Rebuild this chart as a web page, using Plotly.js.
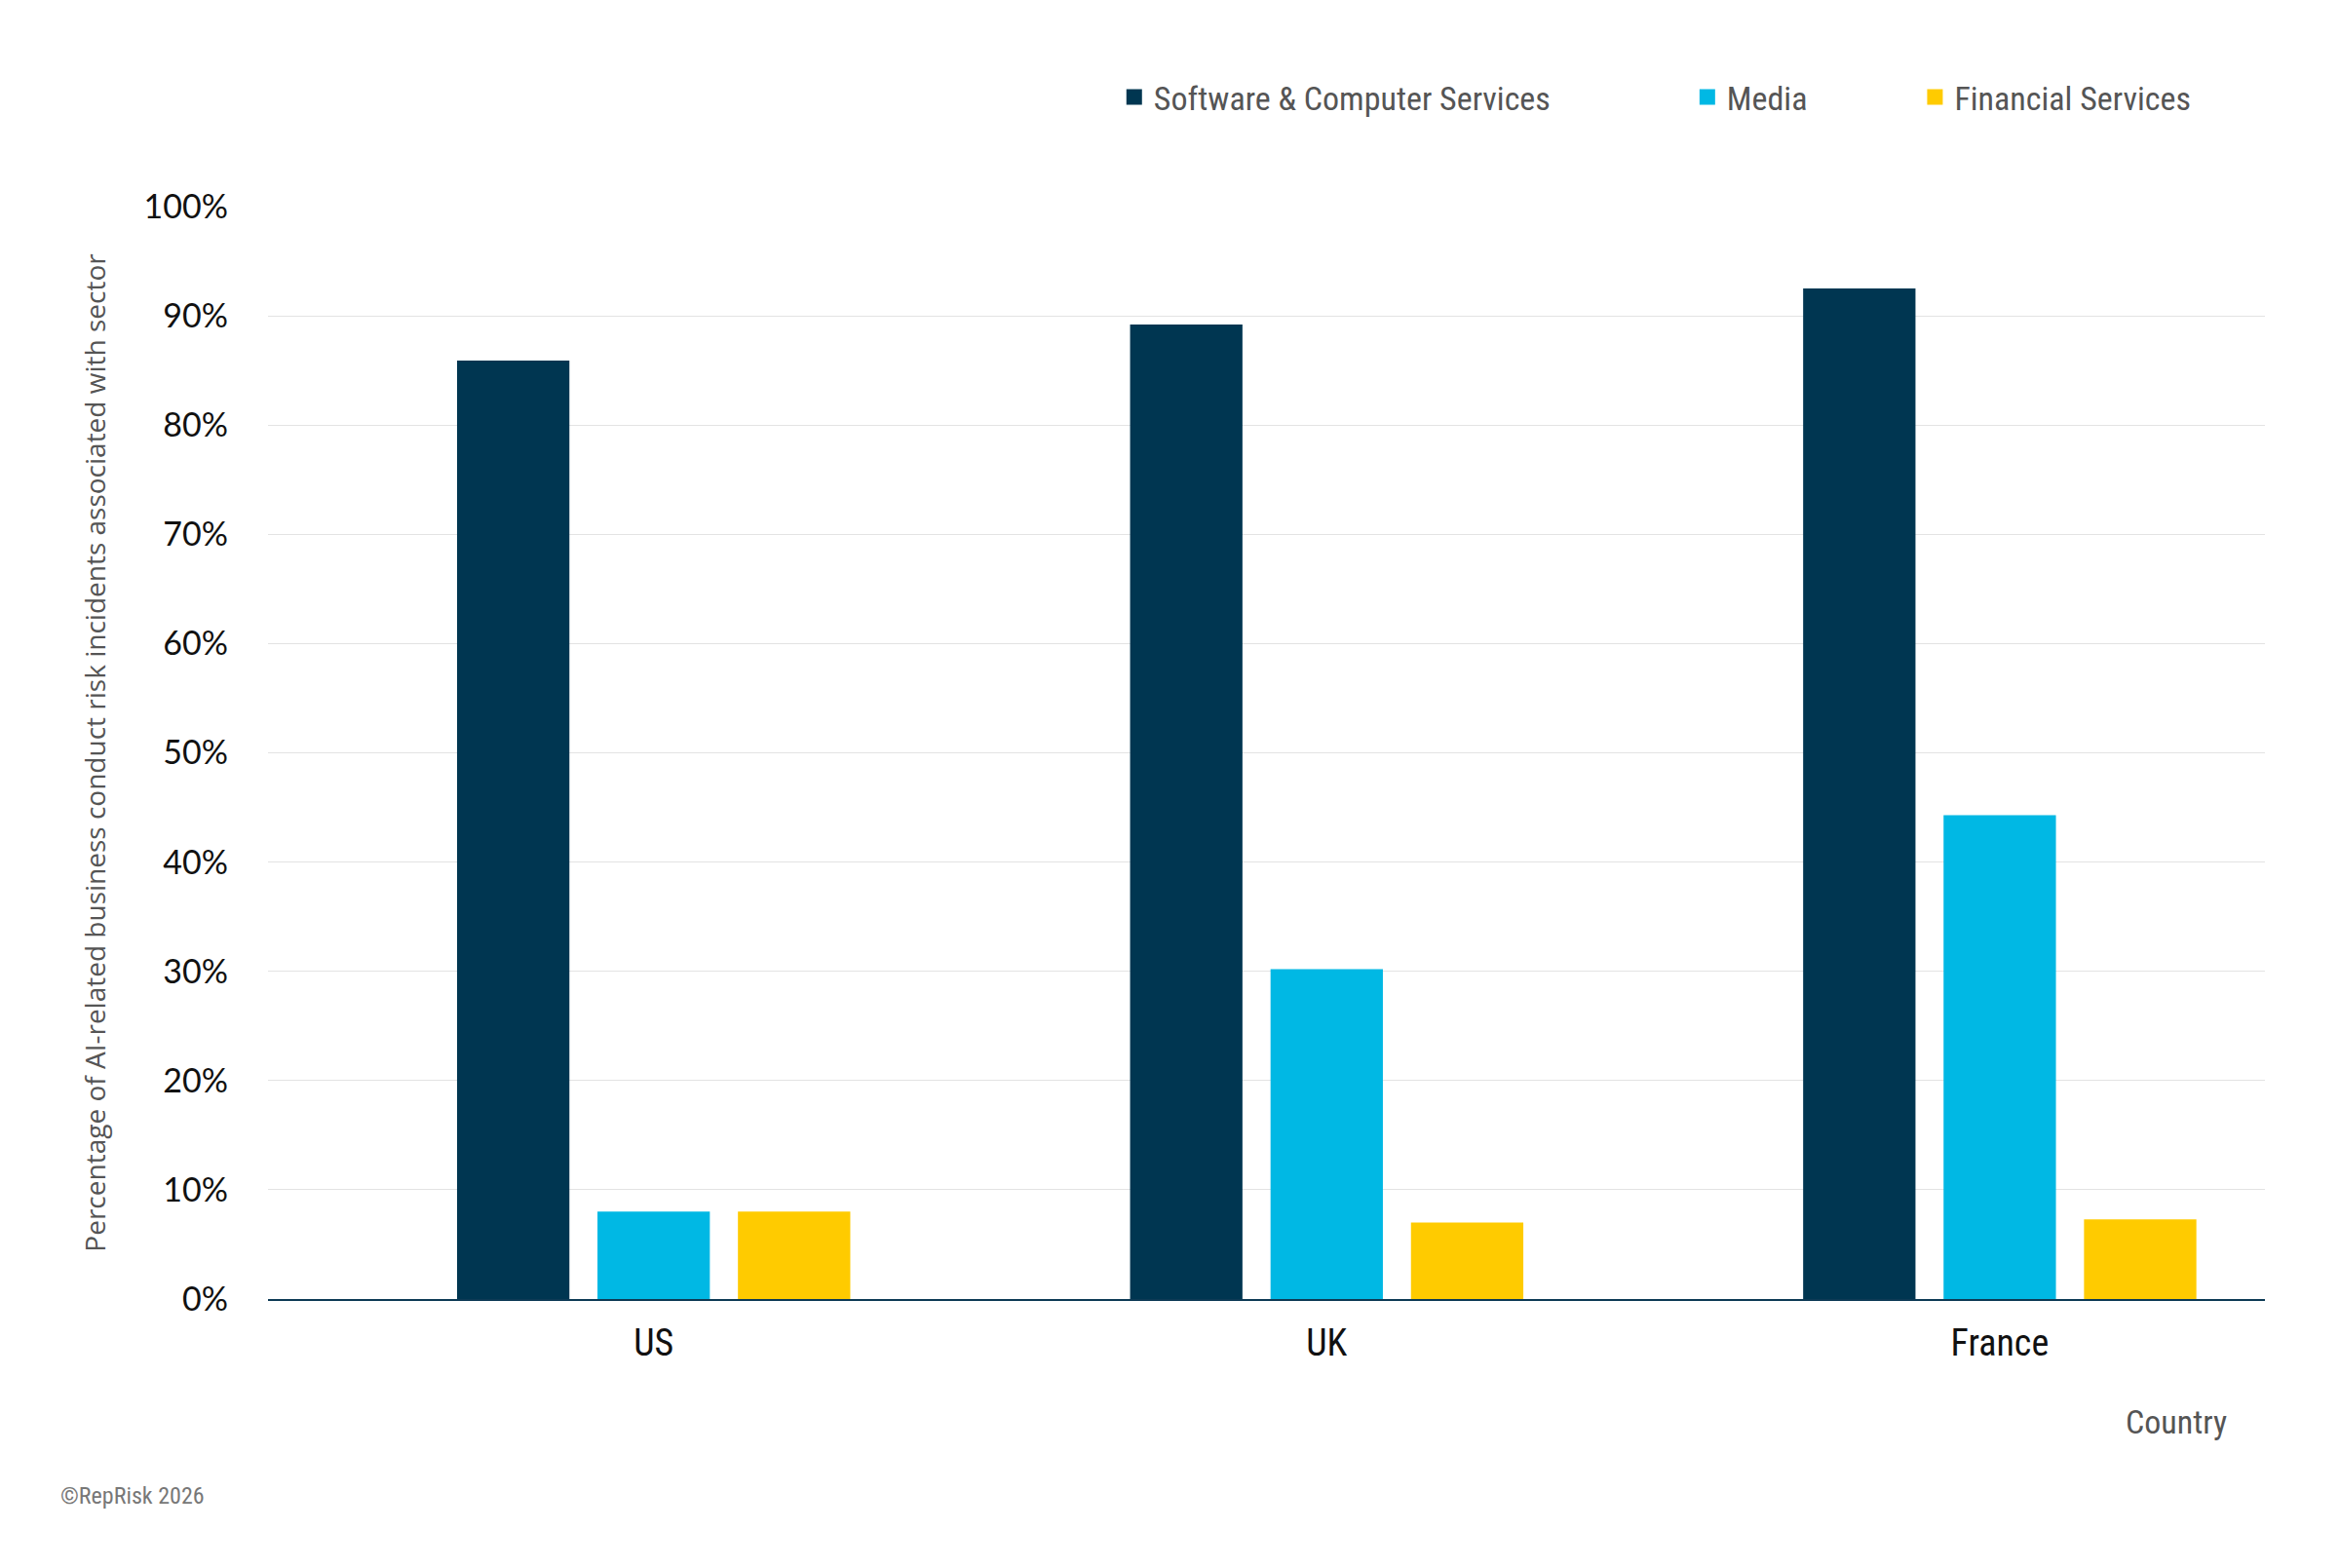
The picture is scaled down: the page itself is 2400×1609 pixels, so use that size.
<!DOCTYPE html>
<html><head><meta charset="utf-8">
<script src="https://cdn.plot.ly/plotly-3.0.1.min.js"></script>
<style>body{margin:0;background:#fff}</style></head>
<body><div id="c" style="width:2400px;height:1609px"></div>
<script>
const countries = ["US", "UK", "France"];
const software = [85.9, 89.2, 92.5];
const media = [8.0, 30.2, 44.3];
const financial = [8.0, 7.0, 7.3];
const names = ["Software & Computer Services", "Media", "Financial Services"];
const colors = ["#003651", "#00b8e4", "#ffcb00"];
const yTicks = [0,10,20,30,40,50,60,70,80,90,100];
const narrow = "Liberation Sans Narrow, Roboto Condensed, Arial Narrow, sans-serif";
const legendIds = ["legend", "legend2", "legend3"];
const legendX = [0.424, 0.711, 0.825];
const traces = [software, media, financial].map((v, i) => ({
  type: "bar", x: countries, y: v, name: names[i], marker: {color: colors[i]}, hoverinfo: "skip", showlegend: false
}));
names.forEach((n, i) => traces.push({
  type: "scatter", mode: "markers", x: [null], y: [null], name: n, legend: legendIds[i],
  marker: {symbol: "square", size: 26, color: colors[i]}, hoverinfo: "skip"
}));
const legendBase = (x) => ({orientation: "h", x: x, xanchor: "left", y: 1.1, yanchor: "middle",
  font: {family: narrow, size: 34, color: "#555"}, itemwidth: 30, bgcolor: "rgba(0,0,0,0)"});
const layout = {
  width: 2400, height: 1609, paper_bgcolor: "#fff", plot_bgcolor: "#fff",
  margin: {l: 275, r: 76, t: 212, b: 276},
  barmode: "group", bargap: 0.374, bargroupgap: 0.2,
  showlegend: true,
  legend: legendBase(legendX[0]), legend2: legendBase(legendX[1]), legend3: legendBase(legendX[2]),
  xaxis: {range: [-0.573, 2.394], showgrid: false, showline: true, linecolor: "#0d3a55", linewidth: 2,
    ticks: "", tickfont: {family: narrow, size: 38, color: "#111"}, ticklabelstandoff: 10},
  yaxis: {range: [0, 100], tickvals: yTicks, ticktext: yTicks.map(t => t + "%"),
    gridcolor: "#e3e3e3", gridwidth: 1, zeroline: false,
    tickfont: {family: "Lato, sans-serif", size: 34, color: "#111"}, ticklabelstandoff: 40,
    title: {text: "Percentage of AI-related business conduct risk incidents associated with sector",
      font: {family: "Open Sans, sans-serif", size: 28, color: "#555"}, standoff: 30}},
  annotations: [
    {text: "Country", xref: "paper", yref: "paper", x: 0.982, y: -0.112, xanchor: "right", yanchor: "middle",
     showarrow: false, font: {family: narrow, size: 34, color: "#555"}},
    {text: "©RepRisk 2026", xref: "paper", yref: "paper", x: -0.105, y: -0.18, xanchor: "left", yanchor: "middle",
     showarrow: false, font: {family: narrow, size: 24, color: "#777"}}
  ]
};
Plotly.newPlot("c", traces, layout, {displayModeBar: false});
</script></body></html>
